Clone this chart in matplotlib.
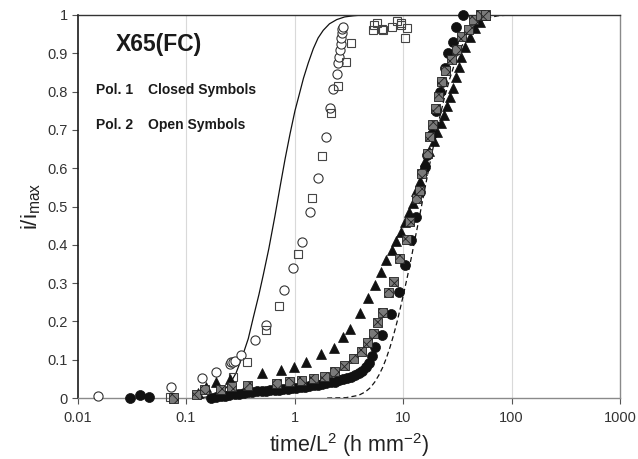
import matplotlib
matplotlib.use("Agg")
import matplotlib.pyplot as plt

plt.rcParams['font.family'] = ['Liberation Sans', 'DejaVu Sans']
plt.rcParams['mathtext.fontset'] = 'custom'
plt.rcParams['mathtext.rm'] = 'Liberation Sans'
plt.rcParams['mathtext.it'] = 'Liberation Sans'
plt.rcParams['hatch.linewidth'] = 0.6

# ---- Pol. 1 (closed symbols) ----
circ_closed_x = [0.0303, 0.038, 0.0453,
                 0.17, 0.19, 0.21, 0.23, 0.25, 0.28, 0.31, 0.34, 0.37, 0.41, 0.45, 0.5,
                 0.55, 0.6, 0.66, 0.72, 0.79, 0.87, 0.95, 1.04, 1.14, 1.25, 1.37, 1.5,
                 1.64, 1.8, 1.97, 2.15, 2.35, 2.57, 2.8, 3.05, 3.3, 3.6, 3.9, 4.2, 4.55,
                 4.9, 5.2, 5.52, 6.45, 7.75, 9.18, 10.4, 11.8, 13.2, 14.4, 16.0, 16.7,
                 18.5, 20.3, 22.0, 22.7, 24.4, 26.2, 28.7, 30.9, 36.0]
circ_closed_y = [0.0, 0.008, 0.003,
                 0.0, 0.002, 0.004, 0.006, 0.008, 0.01, 0.011, 0.013, 0.015, 0.016, 0.017, 0.018,
                 0.019, 0.02, 0.021, 0.022, 0.023, 0.024, 0.025, 0.026, 0.028, 0.029, 0.031, 0.033,
                 0.035, 0.037, 0.039, 0.041, 0.043, 0.046, 0.049, 0.052, 0.056, 0.06, 0.065, 0.071, 0.08,
                 0.092, 0.11, 0.134, 0.164, 0.219, 0.278, 0.346, 0.412, 0.473, 0.539, 0.604, 0.634,
                 0.69, 0.75, 0.80, 0.826, 0.862, 0.90, 0.93, 0.969, 1.0]

tri_closed_x = [0.13, 0.154, 0.189, 0.253, 0.50, 0.755, 0.99, 1.28, 1.75, 2.29, 2.78, 3.28,
                4.02, 4.79, 5.52, 6.22, 7.03, 7.87, 8.62, 9.53, 10.4, 11.3, 12.3, 13.2, 14.2,
                15.1, 16.1, 17.5, 19.2, 20.7, 22.3, 23.7, 25.3, 27.1, 28.7, 30.5, 32.5, 34.5,
                37.2, 41.5, 46.1, 51.3, 57.5]
tri_closed_y = [0.012, 0.03, 0.043, 0.05, 0.066, 0.072, 0.08, 0.094, 0.114, 0.131, 0.158, 0.18,
                0.223, 0.26, 0.295, 0.33, 0.36, 0.386, 0.41, 0.434, 0.46, 0.485, 0.51, 0.54, 0.566,
                0.595, 0.62, 0.645, 0.672, 0.695, 0.717, 0.739, 0.762, 0.787, 0.81, 0.837, 0.863, 0.89,
                0.917, 0.943, 0.965, 0.983, 1.0]

sq_closed_x = [0.076, 0.124, 0.149, 0.206, 0.26, 0.367, 0.68, 0.895, 1.17, 1.49, 1.9, 2.35,
               2.92, 3.5, 4.16, 4.72, 5.32, 5.8, 6.5, 7.4, 8.2, 9.38, 10.7, 11.6, 13.2, 14.1,
               14.9, 16.7, 17.5, 18.8, 20.0, 21.1, 22.7, 24.4, 28.1, 31.0, 34.8, 40.0, 44.5,
               51.3, 57.5]
sq_closed_y = [0.0, 0.01, 0.021, 0.023, 0.03, 0.033, 0.038, 0.042, 0.046, 0.052, 0.057, 0.068,
               0.085, 0.102, 0.121, 0.145, 0.169, 0.197, 0.223, 0.275, 0.304, 0.364, 0.414, 0.46,
               0.521, 0.543, 0.587, 0.639, 0.684, 0.713, 0.756, 0.787, 0.826, 0.856, 0.883, 0.91,
               0.943, 0.961, 0.987, 1.0, 1.0]

# ---- Pol. 2 (open symbols) ----
circ_open_x = [0.0155, 0.073, 0.141, 0.19, 0.255, 0.262, 0.27, 0.28, 0.319, 0.433, 0.543,
               0.806, 0.962, 1.165, 1.39, 1.64, 1.94, 2.13, 2.28, 2.45, 2.54, 2.58, 2.62, 2.66,
               2.69, 2.72, 2.76, 2.79]
circ_open_y = [0.006, 0.028, 0.051, 0.067, 0.088, 0.093, 0.095, 0.097, 0.112, 0.151, 0.191,
               0.282, 0.339, 0.407, 0.486, 0.575, 0.681, 0.758, 0.807, 0.846, 0.874, 0.890, 0.909,
               0.924, 0.940, 0.953, 0.963, 0.969]

sq_open_x = [0.071, 0.273, 0.363, 0.546, 0.724, 1.084, 1.46, 1.80, 2.16, 2.54, 2.99, 3.32,
             5.26, 5.4, 5.7, 6.37, 6.5, 7.87, 8.75, 9.5, 9.6, 10.4, 10.8]
sq_open_y = [0.003, 0.056, 0.095, 0.178, 0.240, 0.376, 0.521, 0.633, 0.743, 0.815, 0.878, 0.928,
             0.961, 0.974, 0.978, 0.963, 0.96, 0.969, 0.985, 0.98, 0.974, 0.939, 0.965]

# ---- model curves ----
fit_pol2_x = [0.12, 0.15, 0.18, 0.2, 0.23, 0.26, 0.29, 0.33, 0.375, 0.417, 0.47, 0.516, 0.58,
              0.66, 0.74, 0.82, 0.91, 1.01, 1.1, 1.21, 1.34, 1.49, 1.65, 1.84, 2.1, 2.45, 2.9,
              3.5, 4.2, 1000]
fit_pol2_y = [0.0, 0.002, 0.006, 0.012, 0.024, 0.042, 0.066, 0.108, 0.155, 0.21, 0.27, 0.322,
              0.39, 0.475, 0.555, 0.625, 0.69, 0.75, 0.79, 0.835, 0.875, 0.912, 0.94, 0.96,
              0.977, 0.988, 0.995, 0.998, 1.0, 1.0]

fit_pol1_x = [2, 3, 3.9, 4.5, 5, 5.5, 6, 6.5, 7, 7.6, 8.2, 8.8, 9.4, 10, 11, 12, 13, 14, 15.5,
              17, 18.5, 20, 22, 24, 27, 30, 34, 39, 45, 52, 60, 75, 100, 1000]
fit_pol1_y = [0.0, 0.001, 0.007, 0.016, 0.027, 0.042, 0.06, 0.08, 0.103, 0.133, 0.165, 0.198,
              0.232, 0.265, 0.318, 0.37, 0.42, 0.465, 0.53, 0.588, 0.64, 0.685, 0.738, 0.782,
              0.834, 0.874, 0.913, 0.945, 0.968, 0.983, 0.992, 0.998, 1.0, 1.0]

x_ticks = [0.01, 0.1, 1, 10, 100, 1000]
x_tick_labels = ['0.01', '0.1', '1', '10', '100', '1000']
y_ticks = [0, 0.1, 0.2, 0.3, 0.4, 0.5, 0.6, 0.7, 0.8, 0.9, 1]
y_tick_labels = ['0', '0.1', '0.2', '0.3', '0.4', '0.5', '0.6', '0.7', '0.8', '0.9', '1']

W, H = 638, 459
fig = plt.figure(figsize=(W / 100, H / 100), dpi=100)
ax = fig.add_axes([77.5 / W, 1 - 398 / H, (620 - 77.5) / W, (398 - 15) / H])
ax.set_xscale('log')
ax.set_xlim(0.01, 1000)
ax.set_ylim(0, 1)

for gx in [0.1, 1, 10, 100]:
    ax.axvline(gx, color='#d9d9d9', lw=0.8, zorder=0)

ax.plot(fit_pol2_x, fit_pol2_y, color='#111111', lw=0.9, zorder=2)
ax.plot(fit_pol1_x, fit_pol1_y, color='#111111', lw=0.9, ls=(0, (4, 2.5)), zorder=2)

ax.plot(circ_open_x, circ_open_y, ls='none', marker='o', ms=6.6, mfc='white', mec='#333333',
        mew=0.8, clip_on=False, zorder=3)
ax.plot(sq_open_x, sq_open_y, ls='none', marker='s', ms=6.2, mfc='none', mec='#444444',
        mew=0.8, clip_on=False, zorder=3)
ax.plot(circ_closed_x, circ_closed_y, ls='none', marker='o', ms=7.2, mfc='#111111',
        mec='#111111', mew=0.5, clip_on=False, zorder=4)
ax.plot(tri_closed_x, tri_closed_y, ls='none', marker='^', ms=7.2, mfc='#111111',
        mec='#111111', mew=0.5, clip_on=False, zorder=4)
ax.scatter(sq_closed_x, sq_closed_y, marker='s', s=42, facecolor='#7a7a7a',
           edgecolor='#222222', hatch='xxx', linewidths=0.6, clip_on=False, zorder=5)

ax.set_xticks(x_ticks)
ax.set_xticklabels(x_tick_labels)
ax.xaxis.set_minor_locator(matplotlib.ticker.NullLocator())
ax.set_yticks(y_ticks)
ax.set_yticklabels(y_tick_labels)
ax.tick_params(axis='both', direction='out', length=4, width=0.8, color='#555555',
               labelsize=10.5, labelcolor='#333333', pad=3)
ax.tick_params(axis='x', pad=5)

ax.spines['left'].set_color('#1a1a1a')
ax.spines['left'].set_linewidth(1.2)
ax.spines['top'].set_color('#333333')
ax.spines['top'].set_linewidth(1.0)
ax.spines['right'].set_color('#8a8a8a')
ax.spines['bottom'].set_color('#8a8a8a')
ax.spines['right'].set_linewidth(1.0)
ax.spines['bottom'].set_linewidth(1.0)

ax.set_xlabel(r'time/L$^{2}$ (h mm$^{-2}$)', fontsize=15.5, color='#222222', labelpad=5)
ax.set_ylabel(r'i/i$_{\mathrm{max}}$', fontsize=16, color='#222222', labelpad=3)

fig.text(116 / W, 1 - 45 / H, 'X65(FC)', fontsize=16.5, fontweight='bold', va='center',
         ha='left', color='#1a1a1a')
fig.text(95.7 / W, 1 - 90 / H, 'Pol. 1', fontsize=10, fontweight='bold', va='center',
         ha='left', color='#1a1a1a')
fig.text(148.3 / W, 1 - 90 / H, 'Closed Symbols', fontsize=10, fontweight='bold',
         va='center', ha='left', color='#1a1a1a')
fig.text(95.7 / W, 1 - 125 / H, 'Pol. 2', fontsize=10, fontweight='bold', va='center',
         ha='left', color='#1a1a1a')
fig.text(148.3 / W, 1 - 125 / H, 'Open Symbols', fontsize=10, fontweight='bold',
         va='center', ha='left', color='#1a1a1a')

fig.savefig('out.png', dpi=100)
